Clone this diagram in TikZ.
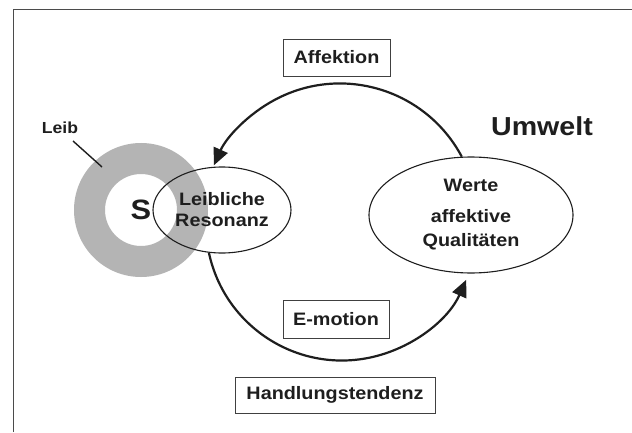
\documentclass[tikz,border=0pt]{standalone}
\usepackage{fontspec}
\setmainfont[FakeStretch=1.1]{Liberation Sans}
\usetikzlibrary{shapes.geometric,arrows.meta}
\definecolor{ink}{HTML}{1E1E1E}
\definecolor{ringgray}{HTML}{B4B4B4}
\tikzset{
  lbl/.style={font=\fontsize{18}{21}\selectfont\bfseries, text=ink},
  labbox/.style={lbl, draw=ink!85, line width=0.9pt, inner sep=0pt},
  oval/.style={ellipse, draw=ink, line width=1.1pt, inner sep=0pt, align=center, lbl},
  flow/.style={draw=ink, line width=2.2pt, -{Triangle[length=17pt,width=15pt]}},
}
\begin{document}
\begin{tikzpicture}[x=1pt,y=1pt]
\useasboundingbox (0,0) rectangle (632,432);
\fill[white] (0,0) rectangle (632,432);
% frame
\draw[ink!80, line width=1pt] (13,0) -- (13,422) -- (632,422);
% Leib ring
\fill[ringgray, even odd rule] (141,222) circle[radius=67] (141,222) circle[radius=36];
\node[font=\fontsize{28}{30}\selectfont\bfseries, text=ink] (s) at (141,222) {S};
\node[font=\fontsize{16}{18}\selectfont\bfseries, text=ink] (leib) at (60,304.5) {Leib};
\coordinate (ringpt) at (102,265);
\draw[ink, line width=1.4pt] (73,291) -- (ringpt);
% ellipses
\node[oval, minimum width=138pt, minimum height=86pt] (res) at (222,222) {Leibliche\\Resonanz};
\node[oval, minimum width=204pt, minimum height=116pt, font=\fontsize{18}{24}\selectfont\bfseries] (wq) at (471,217) {Werte\\[7pt]affektive\\Qualitäten};
% labels
\node[labbox, minimum width=107pt, minimum height=37pt] (aff) at (336.5,374.5) {Affektion};
\node[labbox, minimum width=106pt, minimum height=38pt] (emo) at (336,113) {E-motion};
\node[labbox, minimum width=200pt, minimum height=36pt] (hand) at (335,37) {Handlungstendenz};
\node[font=\fontsize{26}{30}\selectfont\bfseries, text=ink] (umwelt) at (542,306) {Umwelt};
% connectors
\draw[flow] (wq.99) arc[start angle=28, end angle=156, radius=138];
\draw[flow] (res.253) arc[start angle=192, end angle=336, radius=136];
\end{tikzpicture}
\end{document}
